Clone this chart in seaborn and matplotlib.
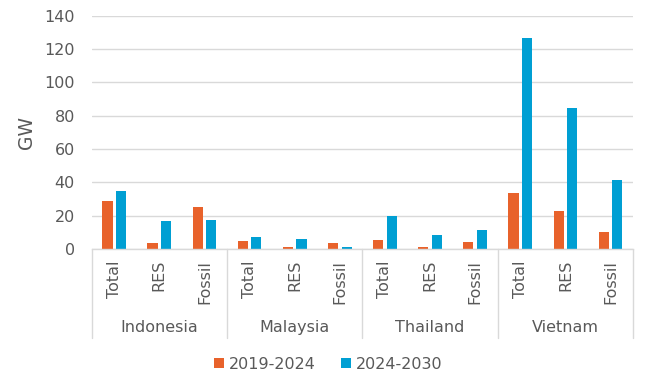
import numpy as np
import pandas as pd
import matplotlib
matplotlib.use("Agg")
import matplotlib.pyplot as plt
import matplotlib.transforms as mtransforms
import seaborn as sns
from matplotlib.patches import Patch

countries = ["Indonesia", "Malaysia", "Thailand", "Vietnam"]
kinds = ["Total", "RES", "Fossil"]
periods = ["2019-2024", "2024-2030"]

# GW additions (country order, then Total/RES/Fossil)
gw_2019_2024 = [28.5, 3.6, 25.0, 5.0, 1.4, 3.6, 5.4, 1.2, 4.4, 33.3, 22.6, 10.4]
gw_2024_2030 = [34.5, 16.8, 17.4, 7.2, 6.0, 1.2, 19.6, 8.4, 11.4, 126.4, 84.8, 41.5]

colors = ["#E8622B", "#009FD3"]
text_color = "#595959"
line_color = "#D9D9D9"

keys = [f"{c} {k}" for c in countries for k in kinds]
df = pd.DataFrame({
    "key": keys * 2,
    "period": [periods[0]] * len(keys) + [periods[1]] * len(keys),
    "gw": gw_2019_2024 + gw_2024_2030,
})

sns.set_style("white")
plt.rcParams["font.family"] = ["DejaVu Sans"]
plt.rcParams["font.size"] = 11.5

fig = plt.figure(figsize=(6.5, 3.89), dpi=100)
ax = fig.add_axes([0.141, 0.360, 0.833, 0.600])

sns.barplot(data=df, x="key", y="gw", hue="period", order=keys, hue_order=periods,
            palette=colors, width=0.6, gap=0.25, saturation=1, linewidth=0,
            ax=ax, legend=False)

ax.set_ylim(0, 140)
ax.set_xlim(-0.5, len(keys) - 0.5)
ax.set_yticks(np.arange(0, 141, 20))
ax.yaxis.grid(True, color=line_color, linewidth=1)
ax.set_axisbelow(True)
for side in ["left", "right", "top"]:
    ax.spines[side].set_visible(False)
ax.spines["bottom"].set_color(line_color)
ax.spines["bottom"].set_linewidth(1)

ax.set_xticks(range(len(keys)))
ax.set_xticklabels([k for c in countries for k in kinds], rotation=90, va="top")
ax.tick_params(axis="x", length=0, pad=8, colors=text_color, labelsize=11.5)
ax.tick_params(axis="y", length=0, pad=12, colors=text_color, labelsize=11.5)
ax.set_xlabel("")
ax.set_ylabel("GW", color=text_color, fontsize=13.5)
ax.yaxis.set_label_coords(-0.103, 0.5)

# group separators and country labels below the axis
trans = mtransforms.blended_transform_factory(ax.transData, ax.transAxes)
for i in range(len(countries) + 1):
    x = i * len(kinds) - 0.5
    ax.plot([x, x], [0, -0.382], transform=trans, color=line_color,
            linewidth=1, clip_on=False)
for i, c in enumerate(countries):
    ax.text(i * len(kinds) + 1, -0.338, c, transform=trans, ha="center",
            va="center", color=text_color, fontsize=11.5)

handles = [Patch(facecolor=col, edgecolor="none", label=p) for col, p in zip(colors, periods)]
fig.legend(handles=handles, loc="center", bbox_to_anchor=(0.505, 0.064), ncol=2,
           frameon=False, handlelength=0.6, handleheight=0.6, handletextpad=0.3,
           columnspacing=1.6, fontsize=11.5, labelcolor=text_color)

fig.savefig("out.png", dpi=100)
